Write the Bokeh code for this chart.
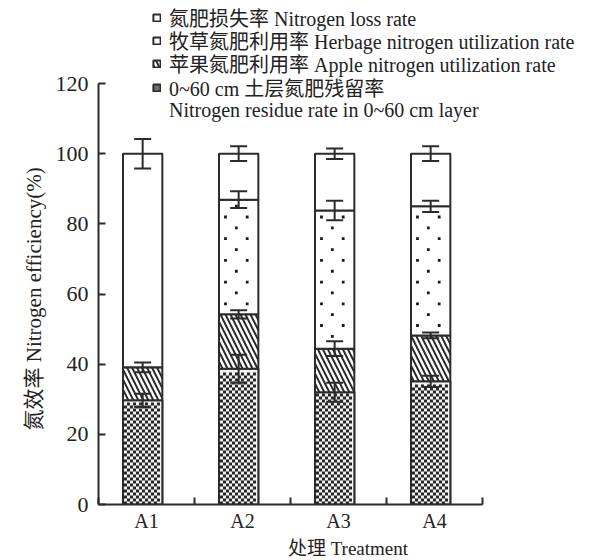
from bokeh.plotting import figure
from bokeh.models import (ColumnDataSource, Range1d, FixedTicker, Legend, LegendItem,
                          Whisker, TeeHead, Title)
from bokeh.embed import file_html
from bokeh.resources import INLINE

categories = ["A1", "A2", "A3", "A4"]
residue = [29.7, 38.7, 32.0, 35.1]
apple = [9.4, 15.5, 12.4, 13.1]
herbage = [0.0, 32.7, 39.4, 36.8]
loss = [60.9, 13.1, 16.2, 15.0]
residue_err = [1.9, 4.0, 2.7, 1.6]
apple_err = [1.4, 1.2, 2.1, 0.8]
herbage_err = [0.0, 2.4, 2.8, 1.6]
loss_err = [4.2, 2.1, 1.5, 2.1]

legend_labels = [
    "氮肥损失率 Nitrogen loss rate",
    "牧草氮肥利用率 Herbage nitrogen utilization rate",
    "苹果氮肥利用率 Apple nitrogen utilization rate",
    "0~60 cm 土层氮肥残留率",
    "Nitrogen residue rate in 0~60 cm layer",
]

FONT = "Liberation Serif, Noto Sans CJK SC"
LINE = "#2b2b2b"
TXT = "#222222"

n = len(categories)
x = [i + 0.5 - 0.04 for i in range(n)]
b0 = [0.0] * n
t1 = [residue[i] for i in range(n)]
t2 = [t1[i] + apple[i] for i in range(n)]
t3 = [t2[i] + herbage[i] for i in range(n)]
t4 = [t3[i] + loss[i] for i in range(n)]

# frame geometry: categories span 384 px, 0..120 spans 421 px
FW, FH = 499, 504
x_end = n * FW / 384.0
y_end = 120 * FH / 421.0
px_x = x_end / FW   # data units per screen pixel
px_y = y_end / FH

p = figure(width=597, height=560, output_backend="svg", toolbar_location=None,
           x_range=Range1d(0, x_end), y_range=Range1d(0, y_end),
           frame_width=FW, frame_height=FH,
           min_border_left=98, min_border_top=0, min_border_right=0, min_border_bottom=0)
p.outline_line_color = None
p.xgrid.visible = False
p.ygrid.visible = False
p.background_fill_color = "white"

W = 0.41
common = dict(width=W, line_color=LINE, line_width=2)
# darker copy underneath, used only for the legend swatch of the residue item
r_res_leg = p.vbar(x=x, bottom=b0, top=t1, fill_color="#6e6e6e", **common)
r_res = p.vbar(x=x, bottom=b0, top=t1, fill_color="#f2f2f2", **common)
r_app = p.vbar(x=x, bottom=t1, top=t2, fill_color="white", hatch_pattern="left_diagonal_line",
               hatch_color=LINE, hatch_scale=10, hatch_weight=2, **common)
r_her = p.vbar(x=x, bottom=t2, top=t3, fill_color="white", **common)
r_los = p.vbar(x=x, bottom=t3, top=t4, fill_color="white", **common)

# checkerboard texture inside the residue segments (3 px cells)
cell = 3
wpx = W / px_x
cx, cy = [], []
for i in range(n):
    left = x[i] - W / 2
    ncols = int((wpx - 2) // cell)
    nrows = int((residue[i] / px_y - 1) // cell)
    for j in range(ncols):
        for k in range(nrows):
            if (j + k) % 2 == 0:
                cx.append(left + (1 + (j + 0.5) * cell) * px_x)
                cy.append((k + 0.5) * cell * px_y)
p.rect(x=cx, y=cy, width=cell * px_x, height=cell * px_y, fill_color="#262626", line_color=None)

# sparse staggered dot texture inside the herbage segments
row_h, col_w = 10.85, 21.7
dx_, dy_ = [], []
for i in range(n):
    if herbage[i] <= 0:
        continue
    left = x[i] - W / 2
    for k in range(int(y_end / (row_h * px_y)) + 1):
        yv = (k + 0.5) * row_h * px_y
        if t2[i] + 2 * px_y < yv < t3[i] - 2 * px_y:
            off = 6.5 if k % 2 == 0 else 6.5 + col_w / 2
            while off < wpx - 0.5:
                dx_.append(left + off * px_x)
                dy_.append(yv)
                off += col_w
p.scatter(x=dx_, y=dy_, marker="square", size=2.8, fill_color="#1a1a1a", line_color=None)

r_blank = p.vbar(x=[], bottom=[], top=[], width=W, fill_alpha=0, line_alpha=0)

def add_err(tops, errs):
    idx = [i for i in range(n) if errs[i] > 0]
    src = ColumnDataSource(dict(x=[x[i] for i in idx],
                                lo=[tops[i] - errs[i] for i in idx],
                                hi=[tops[i] + errs[i] for i in idx]))
    w = Whisker(source=src, base="x", lower="lo", upper="hi", line_color=LINE, line_width=2,
                level="annotation",
                upper_head=TeeHead(size=17, line_color=LINE, line_width=2),
                lower_head=TeeHead(size=17, line_color=LINE, line_width=2))
    p.add_layout(w)

add_err(t1, residue_err)
add_err(t2, apple_err)
add_err(t3, herbage_err)
add_err(t4, loss_err)

# y axis
p.yaxis.bounds = (0, 120)
p.yaxis.ticker = FixedTicker(ticks=[0, 20, 40, 60, 80, 100, 120])
p.yaxis.major_tick_in = 7
p.yaxis.major_tick_out = 0
p.yaxis.minor_tick_line_color = None
p.yaxis.axis_line_width = 2
p.yaxis.major_tick_line_width = 2
p.yaxis.axis_line_color = LINE
p.yaxis.major_tick_line_color = LINE
p.yaxis.major_label_text_font = FONT
p.yaxis.major_label_text_font_size = "22px"
p.yaxis.major_label_text_color = TXT
p.yaxis.major_label_standoff = 10

ytitle = Title(text="氮效率 Nitrogen efficiency(%)", align="left", offset=74, standoff=14,
               text_font=FONT, text_font_size="21px", text_font_style="normal",
               text_color=TXT)
p.add_layout(ytitle, "left")

# x axis
p.xaxis.bounds = (0, n)
p.xaxis.ticker = FixedTicker(ticks=[i + 0.5 for i in range(n)], minor_ticks=list(range(n + 1)))
p.xaxis.major_label_overrides = {i + 0.5: categories[i] for i in range(n)}
p.xaxis.major_tick_line_color = None
p.xaxis.major_tick_in = 0
p.xaxis.major_tick_out = 0
p.xaxis.minor_tick_in = 7
p.xaxis.minor_tick_out = 0
p.xaxis.minor_tick_line_width = 2
p.xaxis.minor_tick_line_color = LINE
p.xaxis.axis_line_width = 2
p.xaxis.axis_line_color = LINE
p.xaxis.major_label_text_font = FONT
p.xaxis.major_label_text_font_size = "20px"
p.xaxis.major_label_text_color = TXT
p.xaxis.major_label_standoff = 5
p.xaxis.axis_label = "处理 Treatment"
p.xaxis.axis_label_text_font = FONT
p.xaxis.axis_label_text_font_size = "19px"
p.xaxis.axis_label_text_font_style = "normal"
p.xaxis.axis_label_text_color = TXT
p.xaxis.axis_label_standoff = 3

# legend: one row each, so the row pitch matches the reference
renderers = [r_los, r_her, r_app, r_res_leg, r_blank]
row_centers = [17, 40, 63, 87, 110]
LH = 30
for lab, rend, c in zip(legend_labels, renderers, row_centers):
    lg = Legend(items=[LegendItem(label=lab, renderers=[rend])],
                location=(54, FH - c - LH // 2), border_line_color=None,
                background_fill_alpha=0, label_text_font=FONT, label_text_font_size="20px",
                label_text_color=TXT, glyph_width=9, glyph_height=9,
                label_standoff=8, spacing=0, padding=0, margin=0, label_height=LH)
    p.add_layout(lg, "center")

open("out.html", "w").write(file_html(p, INLINE))
